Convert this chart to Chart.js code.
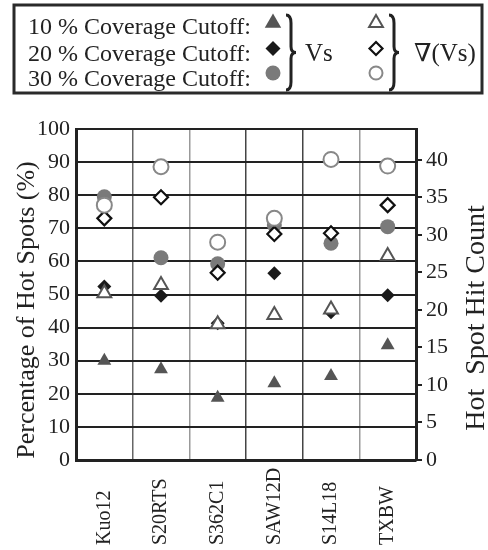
<!DOCTYPE html>
<html>
<head>
<meta charset="utf-8">
<script src="https://cdn.jsdelivr.net/npm/chart.js@4.4.0/dist/chart.umd.min.js"></script>
<style>
  html, body { margin: 0; padding: 0; background: #fff; }
  #wrap { width: 488px; height: 550px; }
</style>
</head>
<body>
<div id="wrap"><canvas id="chart" width="488" height="550"></canvas></div>
<script>
// Hot spot detection per tomography model
const models = ['Kuo12', 'S20RTS', 'S362C1', 'SAW12D', 'S14L18', 'TXBW'];

// Vs (filled markers), percentage of hot spots
const vs10 = [30.0, 27.4, 18.8, 23.2, 25.4, 34.7];
const vs20 = [52.4, 49.6, 41.3, 56.4, 44.6, 49.8];
const vs30 = [79.5, 61.1, 59.3, 71.0, 65.5, 70.5];

// grad(Vs) (open markers)
const grad10 = [50.4, 52.9, 41.0, 43.8, 45.5, 61.6];
const grad20 = [73.0, 79.4, 56.6, 68.3, 68.5, 77.0];
const grad30 = [77.0, 88.6, 65.8, 73.0, 90.8, 88.8];

const percentTicks = [0, 10, 20, 30, 40, 50, 60, 70, 80, 90, 100];
const hitCountTicks = [0, 5, 10, 15, 20, 25, 30, 35, 40];
const hitCountMax = 44.1;

const legendRows = ['10 % Coverage Cutoff:', '20 % Coverage Cutoff:', '30 % Coverage Cutoff:'];

const SERIF = '"Liberation Serif", "DejaVu Serif", serif';
const vGridColors = ['#222', '#666', '#999', '#444', '#444', '#999', '#222'];

const styles = {
  tri:  { pointStyle: 'triangle', radius: 8 },
  dia:  { pointStyle: 'rectRot', radius: 7 },
  circ: { pointStyle: 'circle', radius: 7.5 },
};

function series(label, data, shape, fill, stroke, bw) {
  return {
    label,
    data,
    showLine: false,
    pointStyle: styles[shape].pointStyle,
    pointRadius: styles[shape].radius,
    pointHoverRadius: styles[shape].radius,
    pointBackgroundColor: fill,
    pointBorderColor: stroke,
    pointBorderWidth: bw,
  };
}

// open markers first so they sit on top of the filled ones
const datasets = [
  series('grad 30', grad30, 'circ', '#fff', '#888', 2),
  series('grad 20', grad20, 'dia', '#fff', '#111', 2.2),
  series('grad 10', grad10, 'tri', '#fff', '#555', 2),
  series('Vs 30', vs30, 'circ', '#7a7a7a', '#7a7a7a', 0),
  series('Vs 20', vs20, 'dia', '#1a1a1a', '#1a1a1a', 0),
  series('Vs 10', vs10, 'tri', '#555', '#555', 0),
];

function drawBrace(ctx, x, y0, y1, w) {
  const ym = (y0 + y1) / 2;
  const xm = x + w * 0.5;
  ctx.beginPath();
  ctx.moveTo(x, y0);
  ctx.quadraticCurveTo(xm, y0, xm, y0 + w * 0.8);
  ctx.lineTo(xm, ym - w * 0.6);
  ctx.quadraticCurveTo(xm, ym, x + w, ym);
  ctx.quadraticCurveTo(xm, ym, xm, ym + w * 0.6);
  ctx.lineTo(xm, y1 - w * 0.8);
  ctx.quadraticCurveTo(xm, y1, x, y1);
  ctx.stroke();
}

function verticalText(ctx, text, x, y, size) {
  ctx.save();
  ctx.font = size + 'px ' + SERIF;
  ctx.textAlign = 'center';
  ctx.textBaseline = 'alphabetic';
  ctx.translate(x, y);
  ctx.rotate(-Math.PI / 2);
  ctx.fillText(text, 0, 0);
  ctx.restore();
}

const decorations = {
  id: 'decorations',
  afterDraw(chart) {
    const ctx = chart.ctx;
    const xs = chart.scales.x;
    ctx.save();

    // rotated category labels, anchored at the bottom
    ctx.fillStyle = '#222';
    ctx.font = '20px ' + SERIF;
    ctx.textAlign = 'left';
    ctx.textBaseline = 'middle';
    models.forEach((m, i) => {
      ctx.save();
      ctx.translate(xs.getPixelForValue(i), 545);
      ctx.rotate(-Math.PI / 2);
      ctx.fillText(m, 0, 0);
      ctx.restore();
    });

    // axis titles (both read bottom to top)
    verticalText(ctx, 'Percentage of Hot Spots (%)', 34, 310, 26);
    verticalText(ctx, 'Hot  Spot Hit Count', 484, 318, 28);

    // legend box
    ctx.strokeStyle = '#2a2a2a';
    ctx.lineWidth = 3;
    ctx.strokeRect(14, 5, 468, 88);
    ctx.font = '24px ' + SERIF;
    ctx.textAlign = 'left';
    ctx.textBaseline = 'middle';
    const rowY = [27.5, 54.5, 79.5];
    legendRows.forEach((t, i) => ctx.fillText(t, 28, rowY[i]));

    const markY = [23, 48.5, 73];
    const filled = [datasets[5], datasets[4], datasets[3]];
    const open = [datasets[2], datasets[1], datasets[0]];
    const drawMarker = (ds, x, y, r) => {
      ctx.fillStyle = ds.pointBackgroundColor;
      ctx.strokeStyle = ds.pointBorderColor;
      ctx.lineWidth = ds.pointBorderWidth;
      Chart.helpers.drawPoint(ctx, {
        pointStyle: ds.pointStyle,
        radius: r,
        rotation: 0,
        borderWidth: ds.pointBorderWidth,
      }, x, y);
    };
    const fr = [9.5, 7.5, 7.5];
    const or = [8, 6.5, 6.5];
    filled.forEach((ds, i) => drawMarker(ds, 273, markY[i], fr[i]));
    open.forEach((ds, i) => drawMarker(ds, 376, markY[i], or[i]));

    ctx.strokeStyle = '#222';
    ctx.lineWidth = 3;
    drawBrace(ctx, 286, 15, 90, 10);
    drawBrace(ctx, 389, 15, 90, 10);
    ctx.fillStyle = '#222';
    ctx.font = '25px ' + SERIF;
    ctx.fillText('Vs', 305, 54);
    ctx.fillText('\u2207(Vs)', 414, 54);

    ctx.restore();
  }
};

new Chart(document.getElementById('chart'), {
  type: 'line',
  data: { labels: models, datasets },
  plugins: [decorations],
  options: {
    responsive: false,
    animation: false,
    devicePixelRatio: 1,
    layout: { padding: { top: 129, left: 0, right: 0, bottom: 0 } },
    plugins: { legend: { display: false }, tooltip: { enabled: false } },
    scales: {
      x: {
        type: 'category',
        offset: true,
        afterFit(scale) { scale.height = 90; },
        ticks: { display: false },
        grid: {
          offset: true,
          drawTicks: false,
          lineWidth: 1.5,
          color: (c) => vGridColors[c.index] || '#666',
        },
        border: { display: true, color: '#222', width: 3 },
      },
      y: {
        position: 'left',
        min: 0,
        max: 100,
        afterFit(scale) { scale.width = 76; },
        afterBuildTicks(scale) { scale.ticks = percentTicks.map(v => ({ value: v })); },
        ticks: {
          padding: 6,
          color: '#222',
          font: { family: SERIF, size: 22 },
        },
        grid: { drawTicks: false, color: '#222', lineWidth: 2 },
        border: { display: true, color: '#222', width: 3 },
      },
      y1: {
        position: 'right',
        min: 0,
        max: hitCountMax,
        afterFit(scale) { scale.width = 72; },
        afterBuildTicks(scale) { scale.ticks = hitCountTicks.map(v => ({ value: v })); },
        ticks: {
          padding: 4,
          color: '#222',
          font: { family: SERIF, size: 22 },
        },
        grid: { drawOnChartArea: false, drawTicks: true, tickLength: 6, tickColor: '#222', lineWidth: 2 },
        border: { display: true, color: '#222', width: 3 },
      },
    },
  },
});
</script>
</body>
</html>
